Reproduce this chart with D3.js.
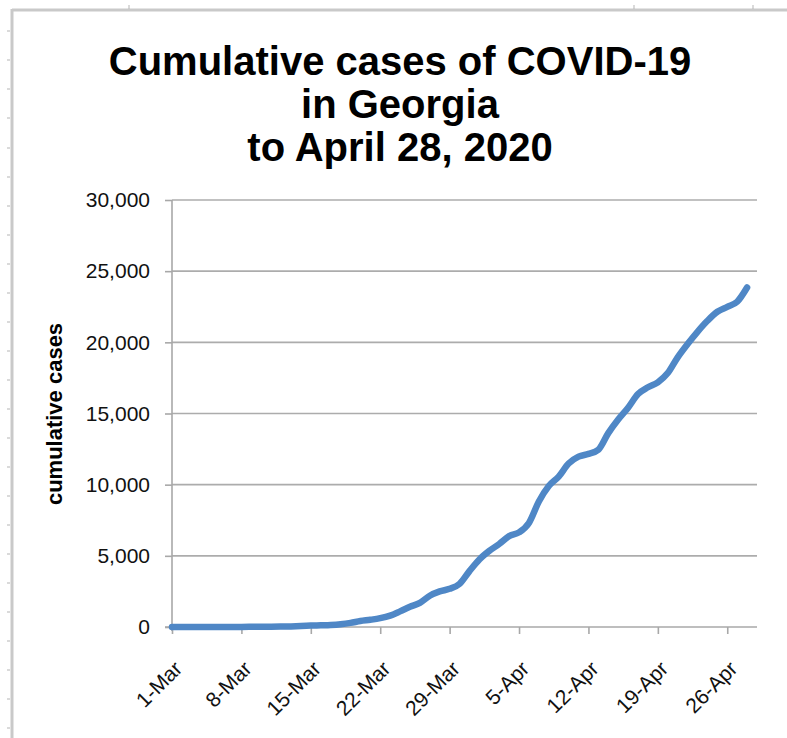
<!DOCTYPE html>
<html>
<head>
<meta charset="utf-8">
<script src="https://cdn.jsdelivr.net/npm/d3@7"></script>
<style>
  body { margin: 0; background: #fff; }
  text { font-family: "Liberation Sans", Arial, sans-serif; }
</style>
</head>
<body>
<script>
    // days since 1-Mar-2020, tick labels every week
    var tickDays = [0, 7, 14, 21, 28, 35, 42, 49, 56];
    var tickLabels = ["1-Mar", "8-Mar", "15-Mar", "22-Mar", "29-Mar", "5-Apr", "12-Apr", "19-Apr", "26-Apr"];
    var yTicks = [0, 5000, 10000, 15000, 20000, 25000, 30000];

    // cumulative cases, 1-Mar .. 28-Apr
    var cases = [0, 0, 2, 2, 2, 2, 5, 6, 11, 17,
      22, 31, 42, 66, 99, 121, 146, 197, 287, 420,
      507, 620, 800, 1097, 1420, 1700, 2198, 2500, 2683, 3032,
      3929, 4748, 5348, 5831, 6383, 6647, 7314, 8818, 9901, 10566,
      11483, 11966, 12159, 12452, 13621, 14578, 15409, 16368, 16840, 17194,
      17841, 18947, 19881, 20740, 21512, 22147, 22491, 22850, 23850];

    var titleLines = ["Cumulative cases of COVID-19", "in Georgia", "to April 28, 2020"];

    // little marks on the sheet frame behind the chart
    var frameTicksLeft = [31, 60, 89, 118, 148, 177, 206, 235, 264, 293, 322, 351, 380, 409, 438, 467, 496, 525, 554, 583, 612, 641, 670, 699, 728];
    var frameTicksTop = [129, 634, 753];

    var width = 787, height = 738;
    var plotLeft = 172, plotRight = 757, plotTop = 200, plotBottom = 627;

    var svg = d3.select("body").append("svg")
      .attr("width", width)
      .attr("height", height);

    // sheet frame
    svg.append("line").attr("x1", 12).attr("x2", width).attr("y1", 10).attr("y2", 10)
      .attr("stroke", "#c9c9c9").attr("stroke-width", 3);
    svg.append("line").attr("x1", 12).attr("x2", 12).attr("y1", 9).attr("y2", height)
      .attr("stroke", "#c9c9c9").attr("stroke-width", 3);
    svg.selectAll(".fl").data(frameTicksLeft).enter().append("line")
      .attr("x1", 7).attr("x2", 10).attr("y1", d => d).attr("y2", d => d)
      .attr("stroke", "#b5b5b5").attr("stroke-width", 1);
    svg.selectAll(".ft").data(frameTicksTop).enter().append("line")
      .attr("x1", d => d).attr("x2", d => d).attr("y1", 5).attr("y2", 9)
      .attr("stroke", "#b5b5b5").attr("stroke-width", 1);

    var x = d3.scaleLinear().domain([0, 59]).range([plotLeft, plotRight]);
    var y = d3.scaleLinear().domain([0, 30000]).range([plotBottom, plotTop]);

    // title
    svg.append("g").selectAll("text").data(titleLines).enter().append("text")
      .attr("x", 400)
      .attr("y", (d, i) => 75 + i * 43)
      .attr("text-anchor", "middle")
      .attr("font-size", 40)
      .attr("font-weight", "bold")
      .attr("fill", "#000")
      .text(d => d);

    // gridlines
    svg.append("g").selectAll("line").data(yTicks.slice(1)).enter().append("line")
      .attr("x1", plotLeft).attr("x2", plotRight)
      .attr("y1", d => y(d)).attr("y2", d => y(d))
      .attr("stroke", "#acacac").attr("stroke-width", 1.6);

    // y axis
    var yAxis = svg.append("g")
      .attr("transform", "translate(" + plotLeft + ",0)")
      .call(d3.axisLeft(y).tickValues(yTicks).tickSize(7).tickPadding(15).tickFormat(d3.format(",")));
    yAxis.select(".domain").attr("stroke", "#a8a8a8").attr("stroke-width", 1.6)
      .attr("d", "M0," + plotTop + "V" + (plotBottom + 4));
    yAxis.selectAll(".tick line").attr("stroke", "#a8a8a8").attr("stroke-width", 1.6);
    yAxis.selectAll(".tick text")
      .attr("font-size", 21)
      .attr("font-family", "Liberation Sans, Arial, sans-serif")
      .attr("fill", "#111");

    // x axis
    var xAxis = svg.append("g")
      .attr("transform", "translate(0," + plotBottom + ")")
      .call(d3.axisBottom(x).tickValues(tickDays).tickSize(7).tickFormat((d, i) => tickLabels[i]));
    xAxis.select(".domain").attr("stroke", "#a8a8a8").attr("stroke-width", 1.6)
      .attr("d", "M" + (plotLeft - 7) + ",0H" + plotRight);
    xAxis.selectAll(".tick line").attr("stroke", "#a8a8a8").attr("stroke-width", 1.6);
    xAxis.selectAll(".tick text")
      .attr("font-size", 21)
      .attr("font-family", "Liberation Sans, Arial, sans-serif")
      .attr("fill", "#111")
      .attr("text-anchor", "end")
      .attr("x", 0).attr("y", 0).attr("dy", 0)
      .attr("transform", "translate(11,43) rotate(-45)");

    // y axis title
    svg.append("text")
      .attr("transform", "translate(62,414) rotate(-90)")
      .attr("text-anchor", "middle")
      .attr("font-size", 22)
      .attr("font-weight", "bold")
      .attr("fill", "#000")
      .text("cumulative cases");

    var lineFunction = d3.line()
      .x((d, i) => x(i))
      .y(d => y(d))
      .curve(d3.curveMonotoneX);

    svg.append("path")
      .attr("d", lineFunction(cases))
      .attr("fill", "none")
      .attr("stroke", "#4f87c6")
      .attr("stroke-width", 6.5)
      .attr("stroke-linecap", "round")
      .attr("stroke-linejoin", "round");
</script>
</body>
</html>
